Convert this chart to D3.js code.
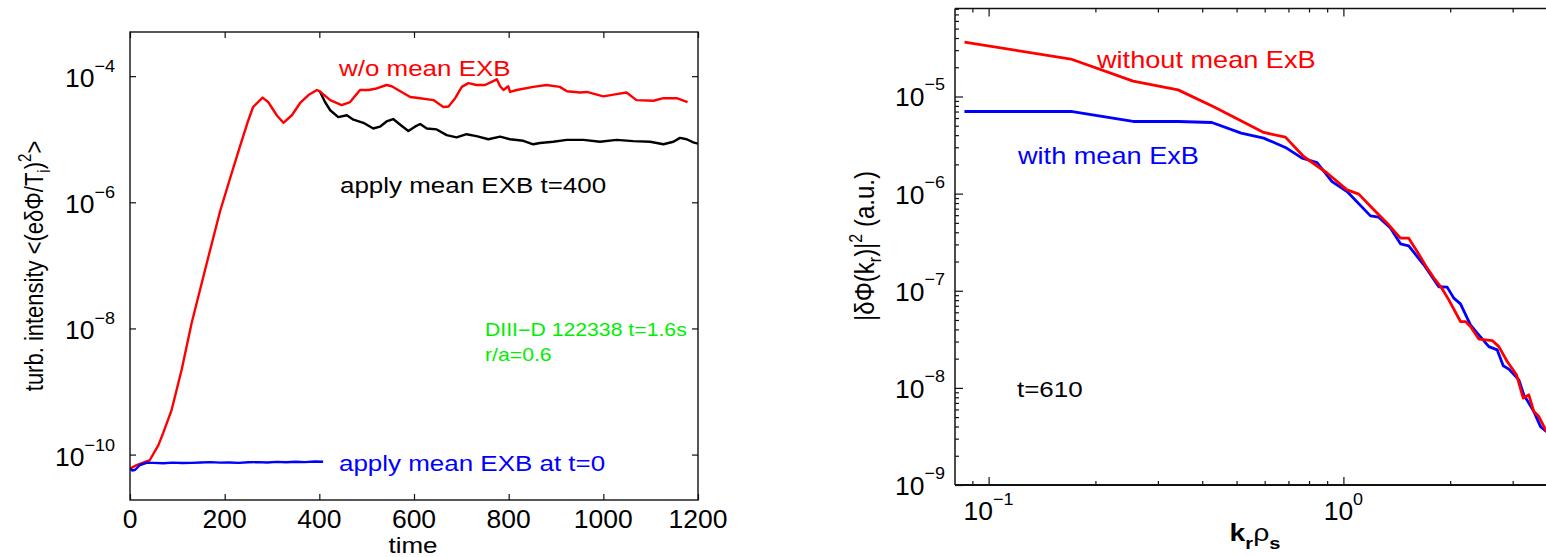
<!DOCTYPE html>
<html>
<head>
<meta charset="utf-8">
<script src="https://cdn.jsdelivr.net/npm/d3@7"></script>
<style>
  html, body { margin: 0; padding: 0; background: #fff; }
  svg { display: block; }
  text { font-family: "Liberation Sans", Arial, Helvetica, sans-serif; }
</style>
</head>
<body>
<svg id="fig" width="1546" height="557"></svg>
<script>
// ---------- Left panel: turbulence intensity vs time ----------
const redTime = [0,14,42,60,70,88,109,130,162,190,211,232,250,260,280,292,310,324,342,359,
  377,395,401,423,447,465,486,504,521,542,553,571,592,613,641,662,673,687,701,715,
  732,750,764,775,782,789,799,803,817,852,880,908,923,951,965,1000,1028,1049,1070,1106,
  1127,1155,1178];
const redIntensity = [6.0e-11,6.8e-11,8.2e-11,1.41e-10,2.19e-10,5.13e-10,2.19e-9,1.20e-8,1.07e-7,7.08e-7,
  2.34e-6,7.59e-6,2.0e-5,3.24e-5,4.57e-5,3.89e-5,2.40e-5,1.82e-5,2.40e-5,3.72e-5,
  5.01e-5,6.03e-5,5.75e-5,4.17e-5,3.47e-5,3.89e-5,6.03e-5,6.03e-5,6.38e-5,7.24e-5,
  6.92e-5,5.75e-5,4.68e-5,4.47e-5,4.17e-5,3.24e-5,3.31e-5,4.47e-5,6.76e-5,7.76e-5,
  7.24e-5,7.24e-5,8.13e-5,8.91e-5,6.92e-5,6.03e-5,6.92e-5,5.62e-5,6.03e-5,6.76e-5,
  7.24e-5,6.76e-5,5.75e-5,5.50e-5,5.62e-5,4.79e-5,5.19e-5,5.50e-5,4.17e-5,4.07e-5,
  4.47e-5,4.47e-5,3.89e-5];

const blackTime = [401,412,423,440,458,472,493,514,528,542,556,571,588,602,613,627,648,669,690,711,
  732,757,782,803,831,852,866,894,923,958,993,1028,1063,1099,1127,1148,1162,1176,1190,1200];
const blackIntensity = [5.75e-5,3.89e-5,2.88e-5,2.24e-5,2.40e-5,2.04e-5,1.82e-5,1.48e-5,1.58e-5,1.91e-5,
  2.09e-5,1.70e-5,1.35e-5,1.58e-5,1.74e-5,1.48e-5,1.43e-5,1.16e-5,1.07e-5,1.20e-5,
  1.12e-5,1.00e-5,1.10e-5,1.00e-5,9.44e-6,8.32e-6,8.71e-6,9.12e-6,9.77e-6,9.77e-6,
  9.12e-6,9.77e-6,9.33e-6,9.12e-6,8.32e-6,9.12e-6,1.05e-5,1.00e-5,8.91e-6,8.51e-6];

const blueTime = [0,5,11,21,35,50,70,90,110,130,150,170,190,210,230,250,270,290,310,330,350,370,390,408];
const blueIntensity = [6.0e-11,5.6e-11,5.75e-11,6.84e-11,7.41e-11,7.4e-11,7.3e-11,7.45e-11,7.35e-11,7.4e-11,
  7.5e-11,7.6e-11,7.45e-11,7.5e-11,7.4e-11,7.55e-11,7.6e-11,7.5e-11,7.65e-11,7.55e-11,
  7.7e-11,7.6e-11,7.75e-11,7.7e-11];

const timeTicks = [0,200,400,600,800,1000,1200];
const intensityTickExp = [-10,-8,-6,-4];

// ---------- Right panel: radial wavenumber spectrum at t=610 ----------
const specKRed = [0.0855,0.1705,0.2554,0.342,0.4323,0.5963,0.6863,0.7727,0.8995,1.024,
  1.105,1.218,1.342,1.448,1.528,1.614,1.722,1.798,1.898,1.982,
  2.138,2.209,2.281,2.408,2.628,2.742,2.896,3.076,3.213,3.332,
  3.442,3.556,3.737];
const specRed = [3.63e-5,2.43e-5,1.44e-5,1.17e-5,7.78e-6,4.26e-6,3.82e-6,2.41e-6,1.63e-6,1.094e-6,
  9.88e-7,6.81e-7,4.77e-7,3.48e-7,3.48e-7,2.54e-7,1.71e-7,1.36e-7,1.05e-7,8.06e-8,
  4.82e-8,4.82e-8,4.28e-8,3.18e-8,3.07e-8,2.66e-8,1.87e-8,1.36e-8,7.83e-9,8.48e-9,
  5.70e-9,5.06e-9,3.55e-9];

const specKBlue = [0.0855,0.1705,0.2554,0.342,0.4259,0.5152,0.5963,0.6863,0.7648,0.8428,
  0.929,1.024,1.192,1.258,1.357,1.448,1.528,1.685,1.857,1.961,
  2.047,2.138,2.281,2.384,2.570,2.714,2.822,2.926,3.123,3.226,
  3.442,3.595,3.737];
const specBlue = [7.01e-6,7.01e-6,5.53e-6,5.53e-6,5.40e-6,4.20e-6,3.73e-6,2.99e-6,2.32e-6,2.09e-6,
  1.33e-6,1.05e-6,5.90e-7,5.73e-7,4.42e-7,3.04e-7,2.90e-7,1.85e-7,1.10e-7,1.09e-7,
  8.39e-8,7.33e-8,4.46e-8,3.66e-8,2.66e-8,2.46e-8,1.69e-8,1.56e-8,1.21e-8,8.47e-9,
  5.70e-9,3.99e-9,3.55e-9];

const kTickExp = [-1, 0];
const spectrumTickExp = [-9,-8,-7,-6,-5];

// ---------- drawing ----------
const svg = d3.select('#fig');
svg.append('rect').attr('width', 1546).attr('height', 557).attr('fill', '#fff');

const SX = 1.18;     // horizontal glyph stretch used for text
const SX_TICK = 1.06;

function label(parent, x, y, opts = {}) {
  const sx = opts.sx || SX;
  return parent.append('text')
    .attr('transform', `translate(${x},${y}) scale(${sx},1)` + (opts.rotate ? ` rotate(${opts.rotate})` : ''))
    .attr('text-anchor', opts.anchor || 'start')
    .attr('font-size', opts.size || 22)
    .attr('font-weight', opts.weight || 'normal')
    .attr('fill', opts.color || '#000');
}
function addParts(t, parts) {
  parts.forEach(p => {
    const s = t.append('tspan').text(p.text);
    if (p.dy) s.attr('dy', p.dy);
    if (p.size) s.attr('font-size', p.size);
    if (p.weight) s.attr('font-weight', p.weight);
  });
  return t;
}
function powerLabel(parent, x, y, exp, anchor, supDy) {
  const t = label(parent, x, y, { anchor, size: 25, sx: SX_TICK });
  const e = exp < 0 ? '\u2212' + Math.abs(exp) : String(exp);
  addParts(t, [{ text: '10' }, { text: e, dy: supDy, size: 17 }]);
}
function styleAxis(g, width) {
  g.select('.domain').remove();
  g.selectAll('.tick line').attr('stroke', '#111').attr('stroke-width', width || 1.2);
}
function zip(a, b) { return a.map((v, i) => [v, b[i]]); }

// ===== left panel =====
const L = { x0: 130, x1: 698, y0: 32, y1: 500 };
const xL = d3.scaleLinear().domain([0, 1200]).range([L.x0, L.x1]);
const yL = d3.scaleLog().domain([Math.pow(10, -10.72), Math.pow(10, -3.30)]).range([L.y1, L.y0]);
const gL = svg.append('g');

svg.append('clipPath').attr('id', 'clipL').append('rect')
  .attr('x', L.x0).attr('y', L.y0).attr('width', L.x1 - L.x0).attr('height', L.y1 - L.y0);

const intensityTicks = intensityTickExp.map(e => Math.pow(10, e));
gL.append('g').attr('transform', `translate(0,${L.y1})`)
  .call(d3.axisBottom(xL).tickValues(timeTicks).tickSize(-6).tickFormat('')).call(g => styleAxis(g));
gL.append('g').attr('transform', `translate(0,${L.y0})`)
  .call(d3.axisTop(xL).tickValues(timeTicks).tickSize(-6).tickFormat('')).call(g => styleAxis(g));
gL.append('g').attr('transform', `translate(${L.x0},0)`)
  .call(d3.axisLeft(yL).tickValues(intensityTicks).tickSize(-6).tickFormat('')).call(g => styleAxis(g));
gL.append('g').attr('transform', `translate(${L.x1},0)`)
  .call(d3.axisRight(yL).tickValues(intensityTicks).tickSize(-6).tickFormat('')).call(g => styleAxis(g));

const lineL = d3.line().x(d => xL(d[0])).y(d => yL(d[1]));
const curvesL = gL.append('g').attr('clip-path', 'url(#clipL)').attr('fill', 'none')
  .attr('stroke-width', 2.4).attr('stroke-linejoin', 'round');
curvesL.append('path').attr('d', lineL(zip(blackTime, blackIntensity))).attr('stroke', '#000');
curvesL.append('path').attr('d', lineL(zip(redTime, redIntensity))).attr('stroke', '#ff0000');
curvesL.append('path').attr('d', lineL(zip(blueTime, blueIntensity))).attr('stroke', '#0000ff');

gL.append('rect').attr('x', L.x0).attr('y', L.y0).attr('width', L.x1 - L.x0).attr('height', L.y1 - L.y0)
  .attr('fill', 'none').attr('stroke', '#111').attr('stroke-width', 1.4);

timeTicks.forEach(t => label(gL, xL(t), 528, { anchor: 'middle', size: 25, sx: SX_TICK }).text(t));
intensityTickExp.forEach(e => powerLabel(gL, 115, yL(Math.pow(10, e)) + 11, e, 'end', -15));

label(gL, 413, 553, { anchor: 'middle', size: 22 }).text('time');
addParts(label(gL, 43, 266, { anchor: 'middle', size: 22, rotate: -90 }), [
  { text: 'turb. intensity <(e\u03b4\u03a6/T' },
  { text: 'i', dy: 6, size: 15 },
  { text: ')', dy: -6 },
  { text: '2', dy: -10, size: 15 },
  { text: '>', dy: 10 }
]);

label(gL, 339, 76, { size: 22, color: '#ff0000' }).text('w/o mean EXB');
label(gL, 340, 193, { size: 22, color: '#000' }).text('apply mean EXB t=400');
label(gL, 485, 336, { size: 18, color: '#00ee00' }).text('DIII\u2212D 122338 t=1.6s');
label(gL, 485, 361, { size: 18, color: '#00ee00' }).text('r/a=0.6');
label(gL, 339, 471, { size: 22, color: '#0000ff' }).text('apply mean EXB at t=0');

// ===== right panel =====
const R = { x0: 955, x1: 1557, y0: 8.5, y1: 485 };
const xR = d3.scaleLog().domain([0.0804, 4.0]).range([R.x0, R.x1]);
const yR = d3.scaleLog().domain([1e-9, Math.pow(10, -4.094)]).range([R.y1, R.y0]);
const gR = svg.append('g');

svg.append('clipPath').attr('id', 'clipR').append('rect')
  .attr('x', R.x0).attr('y', R.y0).attr('width', R.x1 - R.x0).attr('height', R.y1 - R.y0);

const kMajor = kTickExp.map(e => Math.pow(10, e));
const kMinor = xR.ticks().filter(v => !kMajor.some(m => Math.abs(m - v) < 1e-9));
const sMajor = spectrumTickExp.map(e => Math.pow(10, e));
const sMinor = yR.ticks().filter(v => !sMajor.some(m => Math.abs(m - v) / m < 1e-6));

[[kMajor, 8], [kMinor, 4]].forEach(([vals, len]) => {
  gR.append('g').attr('transform', `translate(0,${R.y1})`)
    .call(d3.axisBottom(xR).tickValues(vals).tickSize(-len).tickFormat('')).call(g => styleAxis(g));
  gR.append('g').attr('transform', `translate(0,${R.y0})`)
    .call(d3.axisTop(xR).tickValues(vals).tickSize(-len).tickFormat('')).call(g => styleAxis(g));
});
[[sMajor, 8], [sMinor, 4]].forEach(([vals, len]) => {
  gR.append('g').attr('transform', `translate(${R.x0},0)`)
    .call(d3.axisLeft(yR).tickValues(vals).tickSize(-len).tickFormat('')).call(g => styleAxis(g));
});

const lineR = d3.line().x(d => xR(d[0])).y(d => yR(d[1]));
const curvesR = gR.append('g').attr('clip-path', 'url(#clipR)').attr('fill', 'none')
  .attr('stroke-width', 2.8).attr('stroke-linejoin', 'round');
curvesR.append('path').attr('d', lineR(zip(specKBlue, specBlue))).attr('stroke', '#0000ff');
curvesR.append('path').attr('d', lineR(zip(specKRed, specRed))).attr('stroke', '#ff0000');

// frame: top and left thin, bottom heavier
gR.append('line').attr('x1', R.x0).attr('x2', R.x1).attr('y1', R.y0).attr('y2', R.y0)
  .attr('stroke', '#111').attr('stroke-width', 1.5);
gR.append('line').attr('x1', R.x0).attr('x2', R.x0).attr('y1', R.y0).attr('y2', R.y1)
  .attr('stroke', '#111').attr('stroke-width', 1.5);
gR.append('line').attr('x1', R.x0).attr('x2', R.x1).attr('y1', R.y1).attr('y2', R.y1)
  .attr('stroke', '#111').attr('stroke-width', 2.2);
gR.append('line').attr('x1', R.x1).attr('x2', R.x1).attr('y1', R.y0).attr('y2', R.y1)
  .attr('stroke', '#111').attr('stroke-width', 1.5);

spectrumTickExp.forEach(e => powerLabel(gR, 945, yR(Math.pow(10, e)) + 10, e, 'end', -16));
kTickExp.forEach(e => powerLabel(gR, xR(Math.pow(10, e)), 520, e, 'middle', -15));

addParts(label(gR, 1255, 541, { anchor: 'middle', size: 24 }), [
  { text: 'k', weight: 'bold' },
  { text: 'r', dy: 8, size: 17, weight: 'bold' },
  { text: '\u03c1', dy: -8 },
  { text: 's', dy: 8, size: 17, weight: 'bold' }
]);
addParts(label(gR, 874, 246, { anchor: 'middle', size: 24, rotate: -90 }), [
  { text: '|\u03b4\u03a6(k' },
  { text: 'r', dy: 6, size: 16 },
  { text: ')|', dy: -6 },
  { text: '2', dy: -10, size: 16 },
  { text: ' (a.u.)', dy: 10 }
]);

label(gR, 1097, 68, { size: 23, color: '#ff0000' }).text('without mean ExB');
label(gR, 1018, 164, { size: 23, color: '#0000ff' }).text('with mean ExB');
label(gR, 1017, 397, { size: 22, color: '#000' }).text('t=610');
</script>
</body>
</html>
